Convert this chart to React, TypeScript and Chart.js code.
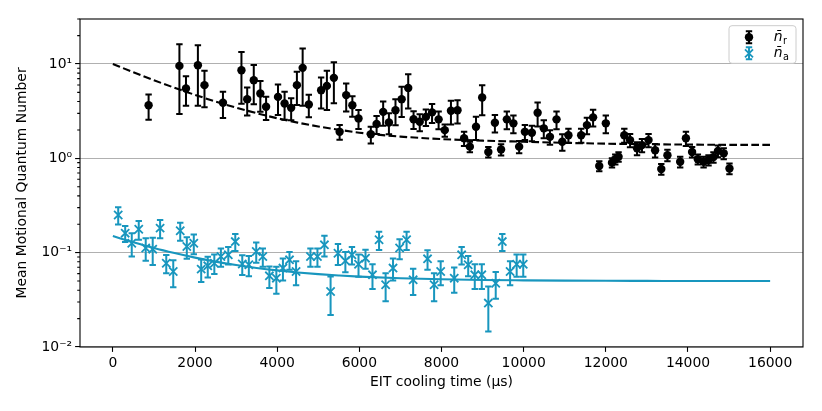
import { useEffect, useRef } from 'react';
import { Chart, registerables } from 'chart.js';

Chart.register(...registerables);

// ---- data: radial mode (n̄_r) ----
const radialTimes = [
  870, 1620, 1780, 2070, 2230, 2680, 3130, 3270, 3430, 3590, 3730, 4020, 4180, 4340, 4480, 4620,
  4770, 5070, 5210, 5380, 5520, 5680, 5830, 5980, 6280, 6420, 6580, 6720, 6880, 7030, 7190, 7320,
  7470, 7620, 7770, 7930, 8080, 8230, 8390, 8550, 8690, 8840, 8990, 9140, 9300, 9450, 9590, 9750,
  9890, 10030, 10200, 10340, 10490, 10640, 10800, 10940, 11090, 11400, 11540, 11690, 11840, 12000,
  12150, 12230, 12310, 12450, 12590, 12760, 12880, 13040, 13200, 13350, 13500, 13810, 13950, 14100,
  14240, 14380, 14500, 14620, 14730, 14870, 15010,
];
const radialValues = [
  3.66, 9.55, 5.5, 9.7, 5.97, 3.88, 8.6, 4.24, 6.74, 4.87, 3.52, 4.48, 3.82, 3.43, 5.97, 9.1,
  3.73, 5.28, 5.86, 7.13, 1.91, 4.68, 3.66, 2.65, 1.8, 2.31, 3.11, 2.4, 3.24, 4.24, 5.58, 2.6,
  2.44, 2.75, 3.07, 2.59, 1.99, 3.19, 3.24, 1.63, 1.33, 2.16, 4.42, 1.17, 2.38, 1.24, 2.59, 2.35,
  1.33, 1.91, 1.87, 3.04, 2.08, 1.69, 2.59, 1.5, 1.76, 1.76, 2.25, 2.72, 0.83, 2.35,
  0.9, 0.98, 1.04, 1.76, 1.56, 1.28, 1.38, 1.56, 1.22, 0.77, 1.08, 0.92, 1.63, 1.17,
  0.98, 0.92, 0.96, 1.03, 1.2, 1.13, 0.78,
];
const radialErrors = [
  1.1, 6.6, 1.9, 6.1, 2.5, 1.2, 4.8, 1.4, 3.0, 1.75, 0.97, 1.6, 1.25, 0.9, 2.3, 5.5,
  1.0, 1.9, 2.6, 3.3, 0.34, 1.55, 0.9, 0.6, 0.36, 0.5, 0.9, 0.6, 1.0, 1.5, 2.2, 0.55,
  0.5, 0.55, 0.7, 0.55, 0.3, 0.9, 0.9, 0.28, 0.17, 0.6, 1.55, 0.15, 0.5, 0.17, 0.55, 0.5,
  0.2, 0.35, 0.35, 0.87, 0.45, 0.3, 0.55, 0.3, 0.3, 0.3, 0.45, 0.55, 0.1, 0.5,
  0.1, 0.12, 0.12, 0.3, 0.25, 0.2, 0.22, 0.25, 0.2, 0.1, 0.15, 0.12, 0.28, 0.15,
  0.12, 0.12, 0.12, 0.13, 0.17, 0.15, 0.1,
];

// ---- data: axial mode (n̄_a) ----
const axialTimes = [
  130, 300, 460, 630, 800, 970, 1150, 1300, 1470, 1640, 1800, 1970, 2150, 2310, 2470, 2630,
  2810, 2980, 3150, 3310, 3490, 3650, 3810, 3980, 4140, 4300, 4460, 4810, 4980, 5150, 5300, 5480,
  5660, 5820, 5980, 6150, 6320, 6480, 6640, 6820, 6980, 7150, 7310, 7660, 7820, 7980, 8310, 8490,
  8650, 8810, 8980, 9140, 9320, 9480, 9670, 9830, 9990,
];
const axialValues = [
  0.251, 0.161, 0.126, 0.177, 0.112, 0.109, 0.182, 0.0774, 0.0631, 0.171, 0.116, 0.126, 0.0669, 0.0725, 0.0774, 0.091,
  0.0948, 0.131, 0.076, 0.0743, 0.103, 0.091, 0.0568, 0.0537, 0.0686, 0.0839, 0.0631, 0.091, 0.091, 0.121, 0.0388, 0.0988,
  0.0819, 0.0948, 0.0755, 0.0875, 0.0582, 0.137, 0.0456, 0.0686, 0.112, 0.137, 0.0515, 0.086, 0.0456, 0.0631, 0.0537, 0.0948,
  0.0743, 0.0582, 0.0582, 0.0292, 0.0475, 0.131, 0.0631, 0.0755, 0.0755,
];
const axialErrors = [
  0.052, 0.031, 0.035, 0.04, 0.03, 0.035, 0.04, 0.017, 0.02, 0.037, 0.03, 0.03, 0.018, 0.018, 0.018, 0.02,
  0.02, 0.027, 0.018, 0.018, 0.025, 0.02, 0.0145, 0.017, 0.018, 0.018, 0.018, 0.02, 0.02, 0.03, 0.017, 0.025,
  0.02, 0.02, 0.02, 0.02, 0.017, 0.03, 0.015, 0.018, 0.027, 0.03, 0.016, 0.02, 0.015, 0.018, 0.016, 0.02,
  0.018, 0.017, 0.017, 0.0146, 0.015, 0.027, 0.018, 0.02, 0.02,
];

// ---- fitted curves ----
const fitTimes = [
  0, 500, 1000, 1500, 2000, 2500, 3000, 3500, 4000, 4500, 5000, 5500, 6000, 7000, 8000, 9000,
  10000, 11000, 12000, 13000, 14000, 15000, 16000,
];
const radialFit = [
  10.0, 8.17, 6.73, 5.6, 4.71, 4.0, 3.45, 3.01, 2.66, 2.39, 2.18, 2.01, 1.87, 1.7, 1.6, 1.54,
  1.5, 1.46, 1.43, 1.41, 1.4, 1.39, 1.39,
];
const axialFit = [
  0.15, 0.129, 0.112, 0.099, 0.0886, 0.0804, 0.074, 0.0689, 0.0649, 0.0617, 0.0592, 0.0573, 0.0557, 0.0536, 0.0522, 0.0514,
  0.0509, 0.0505, 0.0503, 0.0502, 0.0501, 0.0501, 0.05,
];

// ---- axes ----
const xTicks = [0, 2000, 4000, 6000, 8000, 10000, 12000, 14000, 16000];
const yTicks = [0.01, 0.1, 1, 10];
const yTickLabels = ['10⁻²', '10⁻¹', '10⁰', '10¹'];
const xLabel = 'EIT cooling time (μs)';
const yLabel = 'Mean Motional Quantum Number';
const legendLabels = ['r', 'a'];

const BLUE = '#1896be';
const FONT = '"DejaVu Sans", sans-serif';

const pairs = (xs: number[], ys: number[]) => xs.map((x, i) => ({ x, y: ys[i] }));

const errorBarPlugin = {
  id: 'errorBars',
  beforeDatasetDraw(chart: any, args: any, opts: any) {
    const set = (opts.sets || []).find((s: any) => s.datasetIndex === args.index);
    if (!set) return;
    const y = chart.scales.y;
    const ctx = chart.ctx;
    const meta = chart.getDatasetMeta(args.index);
    const data = chart.data.datasets[args.index].data as any[];
    ctx.save();
    ctx.strokeStyle = set.color;
    ctx.lineWidth = 2;
    meta.data.forEach((el: any, i: number) => {
      const v = data[i].y;
      const e = set.errors[i];
      const top = y.getPixelForValue(v + e);
      const lo = v - e > 0 ? y.getPixelForValue(v - e) : chart.chartArea.bottom;
      const cx = el.x;
      ctx.beginPath();
      ctx.moveTo(cx, top);
      ctx.lineTo(cx, lo);
      ctx.moveTo(cx - 3.2, top);
      ctx.lineTo(cx + 3.2, top);
      ctx.moveTo(cx - 3.2, lo);
      ctx.lineTo(cx + 3.2, lo);
      ctx.stroke();
    });
    ctx.restore();
  },
};

const framePlugin = {
  id: 'frame',
  afterDraw(chart: any) {
    const { ctx, chartArea: a } = chart;
    const y = chart.scales.y;
    ctx.save();
    ctx.strokeStyle = '#000';
    ctx.lineWidth = 1.1;
    // minor ticks on log axis
    ctx.beginPath();
    for (let k = -2; k <= 1; k++) {
      for (let m = 2; m <= 9; m++) {
        const v = m * Math.pow(10, k);
        if (v < y.min || v > y.max) continue;
        const py = y.getPixelForValue(v);
        ctx.moveTo(a.left - 2.8, py);
        ctx.lineTo(a.left, py);
      }
    }
    ctx.stroke();
    ctx.strokeRect(a.left, a.top, a.right - a.left, a.bottom - a.top);

    // legend
    const bw = 67;
    const bh = 37.6;
    const bx = a.right - 7 - bw;
    const by = a.top + 6.7;
    ctx.beginPath();
    const r = 3;
    ctx.moveTo(bx + r, by);
    ctx.arcTo(bx + bw, by, bx + bw, by + bh, r);
    ctx.arcTo(bx + bw, by + bh, bx, by + bh, r);
    ctx.arcTo(bx, by + bh, bx, by, r);
    ctx.arcTo(bx, by, bx + bw, by, r);
    ctx.closePath();
    ctx.fillStyle = 'rgba(255,255,255,0.8)';
    ctx.fill();
    ctx.strokeStyle = '#cccccc';
    ctx.lineWidth = 1;
    ctx.stroke();

    const rows = [
      { color: '#000', kind: 'circle', sub: legendLabels[0] },
      { color: BLUE, kind: 'x', sub: legendLabels[1] },
    ];
    rows.forEach((row, i) => {
      const mx = bx + 20;
      const my = by + 11.6 + i * 16;
      ctx.strokeStyle = row.color;
      ctx.fillStyle = row.color;
      ctx.lineWidth = 2;
      ctx.beginPath();
      ctx.moveTo(mx, my - 6);
      ctx.lineTo(mx, my + 6);
      ctx.moveTo(mx - 3.2, my - 6);
      ctx.lineTo(mx + 3.2, my - 6);
      ctx.moveTo(mx - 3.2, my + 6);
      ctx.lineTo(mx + 3.2, my + 6);
      ctx.stroke();
      if (row.kind === 'circle') {
        ctx.beginPath();
        ctx.arc(mx, my, 4.2, 0, Math.PI * 2);
        ctx.fill();
      } else {
        ctx.lineWidth = 1.8;
        ctx.beginPath();
        ctx.moveTo(mx - 4, my - 4);
        ctx.lineTo(mx + 4, my + 4);
        ctx.moveTo(mx - 4, my + 4);
        ctx.lineTo(mx + 4, my - 4);
        ctx.stroke();
      }
      ctx.fillStyle = '#000';
      ctx.textBaseline = 'alphabetic';
      ctx.textAlign = 'left';
      const tx = bx + 44.7;
      const base = my + 4;
      ctx.font = `italic 13.9px ${FONT}`;
      ctx.fillText('n\u0304', tx, base);
      const w = ctx.measureText('n').width;
      ctx.font = `9.7px ${FONT}`;
      ctx.fillText(row.sub, tx + w + 0.5, base + 2.5);
    });
    ctx.restore();
  },
};

export default function App() {
  const ref = useRef<HTMLCanvasElement>(null);
  useEffect(() => {
    if (!ref.current) return;
    const tickFont = { family: FONT, size: 13.9 };
    const chart = new Chart(ref.current, {
      type: 'scatter',
      data: {
        datasets: [
          {
            label: 'n_r',
            data: pairs(radialTimes, radialValues),
            pointStyle: 'circle',
            pointRadius: 4.2,
            pointBackgroundColor: '#000',
            pointBorderWidth: 0,
            borderColor: '#000',
          },
          {
            label: 'n_a',
            data: pairs(axialTimes, axialValues),
            pointStyle: 'crossRot',
            pointRadius: 5.8,
            pointBorderWidth: 1.8,
            pointBorderColor: BLUE,
            borderColor: BLUE,
          },
          {
            label: 'fit r',
            data: pairs(fitTimes, radialFit),
            showLine: true,
            borderColor: '#000',
            borderWidth: 2.1,
            borderDash: [7.7, 3.3],
            pointRadius: 0,
            cubicInterpolationMode: 'monotone',
          },
          {
            label: 'fit a',
            data: pairs(fitTimes, axialFit),
            showLine: true,
            borderColor: BLUE,
            borderWidth: 2.1,
            pointRadius: 0,
            cubicInterpolationMode: 'monotone',
          },
        ],
      },
      options: {
        animation: false,
        responsive: false,
        devicePixelRatio: 1,
        layout: { padding: { top: 19, right: 19, left: 0, bottom: 0 } },
        plugins: {
          legend: { display: false },
          tooltip: { enabled: false },
          errorBars: {
            sets: [
              { datasetIndex: 0, errors: radialErrors, color: '#000' },
              { datasetIndex: 1, errors: axialErrors, color: BLUE },
            ],
          },
        } as any,
        scales: {
          x: {
            type: 'linear',
            min: -800,
            max: 16800,
            afterBuildTicks: (s: any) => {
              s.ticks = xTicks.map((value) => ({ value }));
            },
            afterFit: (s: any) => {
              s.height = 64;
            },
            ticks: {
              callback: (v: any) => String(v),
              font: tickFont,
              color: '#000',
              padding: 3,
              maxRotation: 0,
              autoSkip: false,
            },
            grid: {
              drawOnChartArea: false,
              drawTicks: true,
              tickLength: 4.9,
              tickColor: '#000',
              tickWidth: 1.1,
            },
            border: { display: false },
            title: {
              display: true,
              text: xLabel,
              font: tickFont,
              color: '#000',
              padding: { top: 0, bottom: 20.6 },
            },
          },
          y: {
            type: 'logarithmic',
            min: 0.01,
            max: 30,
            afterBuildTicks: (s: any) => {
              s.ticks = yTicks.map((value) => ({ value, major: true }));
            },
            afterFit: (s: any) => {
              s.width = 80;
            },
            ticks: {
              callback: (v: any) => yTickLabels[yTicks.indexOf(Number(v))] ?? '',
              font: tickFont,
              color: '#000',
              padding: 3,
              autoSkip: false,
            },
            grid: {
              color: '#b0b0b0',
              lineWidth: 1.1,
              drawTicks: true,
              tickLength: 4.9,
              tickColor: '#000',
              tickWidth: 1.1,
            },
            border: { display: false },
            title: {
              display: true,
              text: yLabel,
              font: tickFont,
              color: '#000',
              padding: { top: 13.6, bottom: 0 },
            },
          },
        },
      },
      plugins: [errorBarPlugin, framePlugin],
    });
    return () => chart.destroy();
  }, []);

  return (
    <div style={{ position: 'fixed', left: 0, top: 0, width: 822, height: 411, background: '#fff' }}>
      <canvas ref={ref} width={822} height={411} style={{ width: 822, height: 411, display: 'block' }} />
    </div>
  );
}
